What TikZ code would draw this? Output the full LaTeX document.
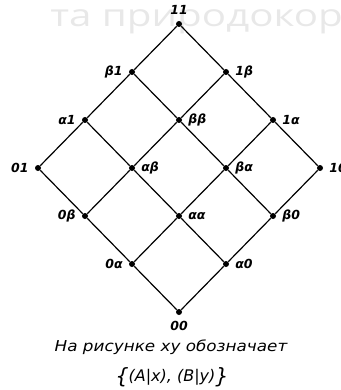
\documentclass[tikz,border=0pt]{standalone}
\usepackage{fontspec}
\setmainfont{DejaVu Sans}
\newfontfamily\wmfont{Open Sans}
\usetikzlibrary{positioning}

\begin{document}
\begin{tikzpicture}[
    x=1pt, y=-1pt,
    dot/.style={circle, fill=black, minimum size=6pt, inner sep=0pt},
    lbl/.style={font=\fontsize{12.5}{14}\selectfont\bfseries\itshape, inner sep=2pt},
    wire/.style={draw, line width=1.2pt},
    every label/.style={lbl},
    label distance=4pt
]
\useasboundingbox (0,0) rectangle (340,390);

% --- Водяной знак ---
\node[anchor=base west, text=black!9, font=\wmfont\fontsize{31}{34}\selectfont, inner sep=0pt,
      xscale=1.3, transform shape] (wm) at (50,27) {та природокор};

% --- Узлы решётки ---
\node[dot, label={above:11}] (n11) at (179,24) {};
\node[dot, label={left:β1}] (nb1) at (132,72) {};
\node[dot, label={right:1β}] (n1b) at (226,72) {};
\node[dot, label={left:α1}] (na1) at (85,120) {};
\node[dot, label={right:ββ}] (nbb) at (179,120) {};
\node[dot, label={right:1α}] (n1a) at (273,120) {};
\node[dot, label={left:01}] (n01) at (38,168) {};
\node[dot, label={right:αβ}] (nab) at (132,168) {};
\node[dot, label={right:βα}] (nba) at (226,168) {};
\node[dot, label={right:10}] (n10) at (320,168) {};
\node[dot, label={left:0β}] (n0b) at (85,216) {};
\node[dot, label={right:αα}] (naa) at (179,216) {};
\node[dot, label={right:β0}] (nb0) at (273,216) {};
\node[dot, label={left:0α}] (n0a) at (132,264) {};
\node[dot, label={right:α0}] (na0) at (226,264) {};
\node[dot, label={below:00}] (n00) at (179,312) {};

% Рёбра вправо-вверх
\draw[wire] (n00) -- (na0) -- (nb0) -- (n10);
\draw[wire] (n0a) -- (naa) -- (nba) -- (n1a);
\draw[wire] (n0b) -- (nab) -- (nbb) -- (n1b);
\draw[wire] (n01) -- (na1) -- (nb1) -- (n11);

% Рёбра влево-вверх
\draw[wire] (n00) -- (n0a) -- (n0b) -- (n01);
\draw[wire] (na0) -- (naa) -- (nab) -- (na1);
\draw[wire] (nb0) -- (nba) -- (nbb) -- (nb1);
\draw[wire] (n10) -- (n1a) -- (n1b) -- (n11);

% --- Подпись ---
\node[font=\fontsize{15}{17}\selectfont\itshape, xscale=1.12, transform shape] (cap1) at (171,347) {На рисунке xy обозначает};
\node[font=\fontsize{16}{18}\selectfont\itshape] (cap2) at (172,377) {\raisebox{-0.1em}{\fontsize{21}{21}\selectfont\{}(A|x), (B|y)\raisebox{-0.1em}{\fontsize{21}{21}\selectfont\}}};
\end{tikzpicture}
\end{document}
